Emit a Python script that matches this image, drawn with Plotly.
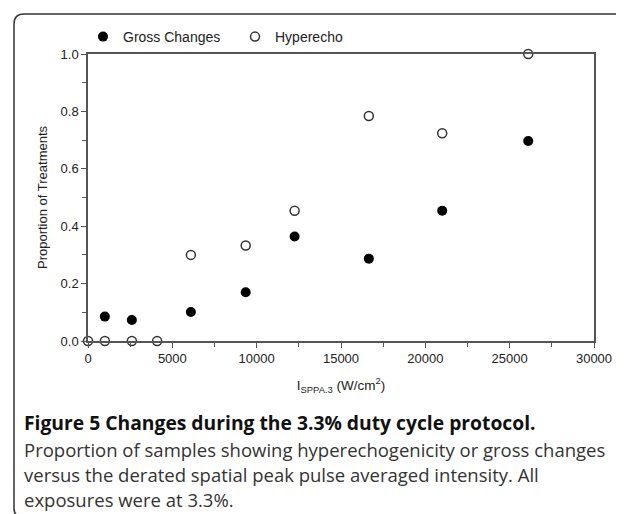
import plotly.graph_objects as go

# Data
gross_x = [1000, 2600, 6100, 9350, 12250, 16650, 21000, 26100]
gross_y = [0.085, 0.073, 0.101, 0.170, 0.364, 0.287, 0.454, 0.697]
hyper_x = [0, 1000, 2600, 4100, 6100, 9350, 12250, 16650, 21000, 26100]
hyper_y = [0.0, 0.0, 0.0, 0.0, 0.300, 0.333, 0.454, 0.784, 0.724, 1.0]
x_ticks = [0, 5000, 10000, 15000, 20000, 25000, 30000]
y_ticks = [0, 0.2, 0.4, 0.6, 0.8, 1.0]

W, H = 624, 514
L, R, T, B = 80, 586, 46, 333

def px(x):
    return (x - L) / (R - L)

def py(y):
    return (B - y) / (B - T)

fig = go.Figure()
fig.add_trace(go.Scatter(x=gross_x, y=gross_y, mode="markers", name="Gross Changes",
                         marker=dict(symbol="circle", size=10, color="black",
                                     line=dict(width=0)), cliponaxis=False))
fig.add_trace(go.Scatter(x=hyper_x, y=hyper_y, mode="markers", name="Hyperecho",
                         marker=dict(symbol="circle", size=9, color="white",
                                     line=dict(width=1.5, color="#333")), cliponaxis=False))

axis_common = dict(showgrid=False, zeroline=False, showline=True, linecolor="#555",
                   linewidth=1.5, mirror=True, ticks="outside", ticklen=5, tickwidth=1,
                   tickcolor="#555", tickfont=dict(family="Arial", size=13, color="#222"))

fig.update_xaxes(range=[0, 30000], tickvals=x_ticks, tickformat="d",
                 minor=dict(dtick=2500, tick0=0, ticks="outside", ticklen=4, tickcolor="#555"),
                 title=dict(text="I<sub>SPPA.3</sub> (W/cm<sup>2</sup>)",
                            font=dict(family="Arial", size=13.5, color="#222"), standoff=15),
                 **axis_common)
fig.update_yaxes(range=[0, 1], tickvals=y_ticks, tickformat=".1f",
                 minor=dict(dtick=0.1, tick0=0, ticks="outside", ticklen=4, tickcolor="#555"),
                 title=dict(text="Proportion of Treatments",
                            font=dict(family="Arial", size=13, color="#222"), standoff=10),
                 **axis_common)

# Frame with rounded left corners (right side extends beyond canvas)
x0, y0, x1, y1, r = 6, 6, 640, 510, 10
path = (f"M {px(x1)},{py(y0)} L {px(x0 + r)},{py(y0)} "
        f"Q {px(x0)},{py(y0)} {px(x0)},{py(y0 + r)} "
        f"L {px(x0)},{py(y1 - r)} Q {px(x0)},{py(y1)} {px(x0 + r)},{py(y1)} "
        f"L {px(x1)},{py(y1)}")
fig.add_shape(type="path", path=path, xref="paper", yref="paper",
              line=dict(color="#333", width=1.5))

cap_font = dict(family="Open Sans", size=18.5, color="#333")
fig.add_annotation(x=px(14), y=py(415), xref="paper", yref="paper", xanchor="left",
                   yanchor="middle", showarrow=False,
                   text="<b>Figure 5 Changes during the 3.3% duty cycle protocol.</b>",
                   font=dict(family="Open Sans", size=19.3, color="#111"))
lines = ["Proportion of samples showing hyperechogenicity or gross changes",
         "versus the derated spatial peak pulse averaged intensity. All",
         "exposures were at 3.3%."]
for i, t in enumerate(lines):
    fig.add_annotation(x=px(14), y=py(441 + 25 * i), xref="paper", yref="paper",
                       xanchor="left", yanchor="middle", showarrow=False, text=t,
                       font=cap_font)

fig.update_layout(
    width=W, height=H,
    margin=dict(l=L, r=W - R, t=T, b=H - B, autoexpand=False),
    paper_bgcolor="white", plot_bgcolor="white",
    showlegend=True,
    legend=dict(orientation="h", x=px(75), y=py(13), xanchor="left", yanchor="top",
                font=dict(family="Arial", size=14, color="#222"),
                bgcolor="rgba(0,0,0,0)", itemwidth=30, entrywidth=107),
)

fig.write_html("out.html")
